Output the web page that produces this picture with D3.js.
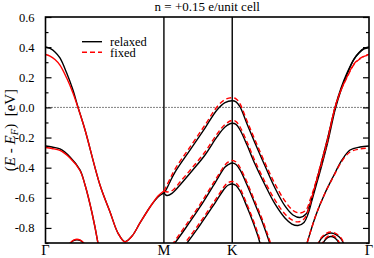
<!DOCTYPE html>
<html>
<head>
<meta charset="utf-8">
<script src="https://cdn.jsdelivr.net/npm/d3@7"></script>
<style>
  html, body { margin: 0; padding: 0; background: #fff; }
</style>
</head>
<body>
<div id="chart"></div>
<script>
// high symmetry points along the path (Γ-M = 1)
const kTicks = [0, 1, 1.577, 2.732];
const kLabels = ["Γ", "M", "K", "Γ"];
const yMajor = [-0.8, -0.6, -0.4, -0.2, 0, 0.2, 0.4, 0.6];
const yMinor = [-0.9, -0.7, -0.5, -0.3, -0.1, 0.1, 0.3, 0.5];

// relaxed bands [k, E]
const relaxed1 = [[0,0.401],[0.038,0.391],[0.080,0.368],[0.122,0.328],[0.179,0.228],[0.232,0.115],[0.274,0.003],[0.334,-0.150],[0.460,-0.515],[0.545,-0.694],[0.612,-0.834],[0.671,-0.891],[0.731,-0.854],[0.798,-0.767],[0.883,-0.661],[0.950,-0.595],[1.0,-0.568]];
const relaxedA = [[1.0,-0.568],[1.018,-0.548],[1.051,-0.495],[1.094,-0.429],[1.220,-0.283],[1.347,-0.137],[1.448,-0.017],[1.516,0.032],[1.577,0.044],[1.609,0.037],[1.643,0.003],[1.702,-0.110],[1.769,-0.236],[1.854,-0.389],[1.938,-0.535],[2.022,-0.654],[2.090,-0.714],[2.149,-0.731],[2.200,-0.708],[2.234,-0.641],[2.268,-0.548],[2.318,-0.402],[2.377,-0.223],[2.445,0.0],[2.496,0.129],[2.546,0.228],[2.605,0.321],[2.648,0.364],[2.690,0.391],[2.732,0.401]];
const relaxedB = [[1.0,-0.568],[1.026,-0.585],[1.068,-0.571],[1.136,-0.515],[1.237,-0.422],[1.347,-0.316],[1.448,-0.196],[1.516,-0.130],[1.577,-0.105],[1.609,-0.113],[1.643,-0.150],[1.702,-0.250],[1.769,-0.376],[1.854,-0.515],[1.938,-0.641],[2.022,-0.734],[2.081,-0.774],[2.132,-0.784],[2.183,-0.764],[2.217,-0.708],[2.251,-0.615],[2.284,-0.522],[2.327,-0.402],[2.386,-0.223],[2.445,-0.017],[2.496,0.115],[2.546,0.218],[2.605,0.318],[2.648,0.361],[2.690,0.388],[2.732,0.398]];
const relaxedC = [[1.068,-0.927],[1.178,-0.807],[1.305,-0.661],[1.431,-0.502],[1.516,-0.396],[1.545,-0.379],[1.577,-0.369],[1.609,-0.379],[1.643,-0.415],[1.702,-0.515],[1.769,-0.641],[1.828,-0.754],[1.879,-0.867],[1.905,-0.927]];
const relaxedD = [[1.170,-0.927],[1.305,-0.781],[1.431,-0.635],[1.516,-0.535],[1.545,-0.515],[1.577,-0.508],[1.609,-0.518],[1.643,-0.555],[1.702,-0.661],[1.752,-0.760],[1.794,-0.854],[1.820,-0.927]];
const relaxed2L = [[0,-0.256],[0.055,-0.263],[0.122,-0.276],[0.207,-0.329],[0.291,-0.415],[0.334,-0.515],[0.393,-0.701],[0.443,-0.900],[0.452,-0.946]];
const relaxed2R = [[2.192,-0.946],[2.209,-0.900],[2.284,-0.714],[2.361,-0.568],[2.428,-0.462],[2.504,-0.349],[2.572,-0.283],[2.656,-0.263],[2.732,-0.256]];
const relaxedBumpL = [[0.173,-0.946],[0.207,-0.904],[0.241,-0.883],[0.266,-0.878],[0.291,-0.883],[0.325,-0.904],[0.359,-0.946]];
const relaxedBumpR1 = [[2.293,-0.927],[2.327,-0.873],[2.369,-0.844],[2.411,-0.834],[2.453,-0.844],[2.496,-0.873],[2.529,-0.927]];
const relaxedBumpR2 = [[2.327,-0.927],[2.361,-0.880],[2.386,-0.862],[2.411,-0.857],[2.436,-0.862],[2.462,-0.880],[2.496,-0.927]];

// fixed bands [k, E]
const fixed1 = [[0,0.351],[0.038,0.341],[0.080,0.318],[0.122,0.281],[0.179,0.195],[0.232,0.096],[0.274,0.0],[0.334,-0.150],[0.460,-0.515],[0.545,-0.694],[0.612,-0.834],[0.671,-0.893],[0.731,-0.854],[0.798,-0.767],[0.883,-0.661],[0.950,-0.588],[1.0,-0.555]];
const fixedA = [[1.0,-0.555],[1.018,-0.528],[1.051,-0.475],[1.094,-0.409],[1.220,-0.263],[1.347,-0.117],[1.448,0.003],[1.516,0.052],[1.577,0.064],[1.609,0.057],[1.643,0.023],[1.702,-0.090],[1.769,-0.216],[1.854,-0.369],[1.938,-0.508],[2.022,-0.621],[2.090,-0.684],[2.149,-0.701],[2.200,-0.681],[2.234,-0.615],[2.268,-0.535],[2.318,-0.396],[2.377,-0.223],[2.445,-0.004],[2.496,0.115],[2.546,0.202],[2.605,0.288],[2.648,0.321],[2.690,0.341],[2.732,0.351]];
const fixedB = [[1.0,-0.555],[1.035,-0.561],[1.077,-0.548],[1.136,-0.495],[1.237,-0.402],[1.347,-0.296],[1.448,-0.177],[1.516,-0.113],[1.577,-0.086],[1.609,-0.094],[1.643,-0.130],[1.702,-0.230],[1.769,-0.356],[1.854,-0.495],[1.938,-0.615],[2.022,-0.708],[2.081,-0.747],[2.132,-0.760],[2.183,-0.741],[2.217,-0.688],[2.251,-0.595],[2.284,-0.502],[2.327,-0.389],[2.386,-0.210],[2.445,0.003],[2.496,0.115],[2.546,0.198],[2.605,0.285],[2.648,0.318],[2.690,0.338],[2.732,0.348]];
const fixedC = [[1.068,-0.913],[1.178,-0.790],[1.305,-0.644],[1.431,-0.485],[1.516,-0.382],[1.545,-0.362],[1.577,-0.352],[1.609,-0.362],[1.643,-0.399],[1.702,-0.498],[1.769,-0.625],[1.828,-0.737],[1.879,-0.850],[1.905,-0.913]];
const fixedD = [[1.153,-0.927],[1.305,-0.764],[1.431,-0.618],[1.516,-0.518],[1.545,-0.498],[1.577,-0.492],[1.609,-0.502],[1.643,-0.538],[1.702,-0.644],[1.752,-0.744],[1.794,-0.837],[1.828,-0.927]];
const fixed2L = [[0,-0.266],[0.055,-0.273],[0.122,-0.286],[0.207,-0.336],[0.291,-0.419],[0.334,-0.515],[0.393,-0.701],[0.443,-0.900],[0.452,-0.946]];
const fixed2R = [[2.192,-0.946],[2.209,-0.900],[2.284,-0.714],[2.361,-0.568],[2.428,-0.465],[2.504,-0.356],[2.572,-0.296],[2.656,-0.276],[2.732,-0.269]];
const fixedBumpL = [[0.173,-0.946],[0.207,-0.901],[0.241,-0.880],[0.266,-0.875],[0.291,-0.880],[0.325,-0.901],[0.359,-0.946]];
const fixedBumpR1 = [[2.293,-0.920],[2.327,-0.866],[2.369,-0.837],[2.411,-0.827],[2.453,-0.837],[2.496,-0.866],[2.529,-0.920]];
const fixedBumpR2 = [[2.327,-0.920],[2.361,-0.873],[2.386,-0.855],[2.411,-0.850],[2.436,-0.855],[2.462,-0.873],[2.496,-0.920]];

const relaxedBands = [relaxed1, relaxedA, relaxedB, relaxedC, relaxedD, relaxed2L, relaxed2R, relaxedBumpL, relaxedBumpR1, relaxedBumpR2];
const fixedSolid = [fixed1, fixed2L, fixedBumpL];
const fixedDashed = [fixedA, fixedB, fixedC, fixedD, fixed2R, fixedBumpR1, fixedBumpR2];

const width = 374, height = 258;
const margin = { top: 17, right: 5, bottom: 15, left: 45.5 };
const serif = "Liberation Serif, Times New Roman, serif";

const svg = d3.select("#chart").append("svg").attr("width", width).attr("height", height)
    .style("display", "block");

const x = d3.scaleLinear().domain([0, 2.732]).range([margin.left, width - margin.right]);
const y = d3.scaleLinear().domain([-0.9, 0.6]).range([height - margin.bottom, margin.top]);

svg.append("clipPath").attr("id", "clip")
    .append("rect")
    .attr("x", x(0)).attr("y", y(0.6))
    .attr("width", x(2.732) - x(0)).attr("height", y(-0.9) - y(0.6));

// Fermi level
svg.append("line")
    .attr("x1", x(0)).attr("x2", x(2.732))
    .attr("y1", y(0)).attr("y2", y(0))
    .attr("stroke", "#000").attr("stroke-width", 1)
    .attr("stroke-dasharray", "1,2");

// high symmetry lines
svg.selectAll(".sym").data(kTicks.slice(1, 3)).enter().append("line")
    .attr("x1", d => x(d)).attr("x2", d => x(d))
    .attr("y1", y(0.6)).attr("y2", y(-0.9))
    .attr("stroke", "#000").attr("stroke-width", 1.4);

const line = d3.line()
    .x(d => x(d[0]))
    .y(d => y(d[1]))
    .curve(d3.curveCatmullRom.alpha(0.5));

const plot = svg.append("g").attr("clip-path", "url(#clip)");

plot.selectAll(".relaxed").data(relaxedBands).enter().append("path")
    .attr("d", line)
    .attr("fill", "none").attr("stroke", "#000").attr("stroke-width", 1.4);

plot.selectAll(".fixed-solid").data(fixedSolid).enter().append("path")
    .attr("d", line)
    .attr("fill", "none").attr("stroke", "#ff0000").attr("stroke-width", 1.4);

plot.selectAll(".fixed-dashed").data(fixedDashed).enter().append("path")
    .attr("d", line)
    .attr("fill", "none").attr("stroke", "#ff0000").attr("stroke-width", 1.4)
    .attr("stroke-dasharray", "5,3");

// axes: ticks inward
const fmt = d => d.toFixed(1);
const left = svg.append("g").attr("transform", `translate(${x(0)},0)`)
    .call(d3.axisLeft(y).tickValues(yMajor).tickSize(-6).tickPadding(11).tickFormat(fmt));
svg.append("g").attr("transform", `translate(${x(0)},0)`)
    .call(d3.axisLeft(y).tickValues(yMinor).tickSize(-3).tickFormat(""));
svg.append("g").attr("transform", `translate(${x(2.732)},0)`)
    .call(d3.axisRight(y).tickValues(yMajor).tickSize(-6).tickFormat(""));
svg.append("g").attr("transform", `translate(${x(2.732)},0)`)
    .call(d3.axisRight(y).tickValues(yMinor).tickSize(-3).tickFormat(""));
svg.selectAll(".domain").remove();
svg.selectAll(".tick line").attr("stroke", "#000").attr("stroke-width", 1.2);
left.attr("font-family", null).attr("font-size", null);
left.selectAll(".tick text").attr("font-size", 12.5);

// frame
svg.append("rect")
    .attr("x", x(0)).attr("y", y(0.6))
    .attr("width", x(2.732) - x(0)).attr("height", y(-0.9) - y(0.6))
    .attr("fill", "none").attr("stroke", "#000").attr("stroke-width", 1.6);

// k labels
svg.selectAll(".klab").data(kTicks).enter().append("text")
    .attr("class", "klab")
    .attr("x", d => x(d)).attr("y", 255)
    .attr("text-anchor", "middle")
    .attr("font-size", 14.5)
    .text((d, i) => kLabels[i]);

// title
svg.append("text")
    .attr("x", (x(0) + x(2.732)) / 2).attr("y", 11)
    .attr("text-anchor", "middle").attr("font-size", 13)
    .text("n = +0.15 e/unit cell");

// y title
const yt = svg.append("text")
    .attr("transform", `translate(15,${(y(0.6) + y(-0.9)) / 2}) rotate(-90)`)
    .attr("text-anchor", "middle").attr("font-size", 15);
yt.append("tspan").text("(");
yt.append("tspan").attr("font-style", "italic").text("E");
yt.append("tspan").text(" - ");
yt.append("tspan").attr("font-style", "italic").text("E");
yt.append("tspan").attr("font-style", "italic").attr("font-size", 10.5).attr("dy", 3).text("F");
yt.append("tspan").attr("dy", -3).text(")\u00a0\u00a0[eV]");

// legend
const legend = svg.append("g");
legend.append("line").attr("x1", 82).attr("x2", 102).attr("y1", 41.7).attr("y2", 41.7)
    .attr("stroke", "#000").attr("stroke-width", 1.4);
legend.append("line").attr("x1", 82).attr("x2", 102).attr("y1", 52.3).attr("y2", 52.3)
    .attr("stroke", "#ff0000").attr("stroke-width", 1.4).attr("stroke-dasharray", "5,3");
legend.append("text").attr("x", 110).attr("y", 45.5).attr("font-size", 12.5).text("relaxed");
legend.append("text").attr("x", 110).attr("y", 57).attr("font-size", 12.5).text("fixed");

svg.selectAll("text").style("font-family", serif).attr("fill", "#000");
</script>
</body>
</html>
